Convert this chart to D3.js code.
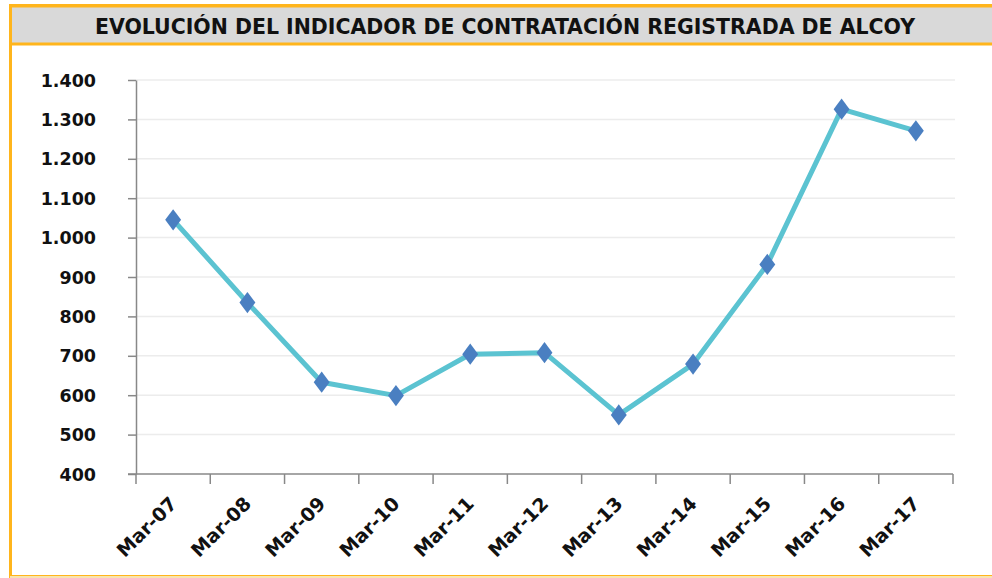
<!DOCTYPE html>
<html>
<head>
<meta charset="utf-8">
<script src="https://cdn.jsdelivr.net/npm/d3@7"></script>
<style>
  body { margin: 0; background: #fff; }
  svg { display: block; }
</style>
</head>
<body>
<script>
// chart data
var titleText = "EVOLUCIÓN DEL INDICADOR DE CONTRATACIÓN REGISTRADA DE ALCOY";
var months = ["Mar-07","Mar-08","Mar-09","Mar-10","Mar-11","Mar-12","Mar-13","Mar-14","Mar-15","Mar-16","Mar-17"];
var values = [1045, 835, 633, 599, 704, 708, 550, 679, 932, 1326, 1271];
var yTicks = [400, 500, 600, 700, 800, 900, 1000, 1100, 1200, 1300, 1400];

var W = 992, H = 578;
var svg = d3.select("body").append("svg")
  .attr("width", W).attr("height", H);

//frame
svg.append("rect").attr("x", 10.5).attr("y", 5.5)
  .attr("width", W).attr("height", H - 7)
  .attr("fill", "#fff").attr("stroke", "#ffb51c").attr("stroke-width", 3);
svg.append("line").attr("x1", 10).attr("x2", W).attr("y1", 577).attr("y2", 577)
  .attr("stroke", "#f8e3b0").attr("stroke-width", 2);

//title bar
svg.append("rect").attr("x", 10.5).attr("y", 6)
  .attr("width", W).attr("height", 38)
  .attr("fill", "#d9d9d9").attr("stroke", "#ffb51c").attr("stroke-width", 3);
svg.append("text")
  .attr("x", 505).attr("y", 34)
  .attr("text-anchor", "middle")
  .attr("textLength", 820).attr("lengthAdjust", "spacingAndGlyphs")
  .style("font-family", "'DejaVu Sans Condensed', 'DejaVu Sans', sans-serif")
  .style("font-weight", "bold").style("font-size", "22px")
  .style("fill", "#111")
  .text(titleText);

var x = d3.scaleBand().domain(months).range([136, 953]);
var y = d3.scaleLinear().domain([400, 1400]).range([474, 80]);

//gridlines
svg.append("g").selectAll("line")
  .data(yTicks.slice(1))
  .enter().append("line")
  .attr("x1", 136).attr("x2", 955)
  .attr("y1", function(d){ return y(d); })
  .attr("y2", function(d){ return y(d); })
  .attr("stroke", "#ececec").attr("stroke-width", 1.5);

var fmt = function(d){ return d3.format(",")(d).replace(/,/g, "."); };

var yAxis = svg.append("g")
  .attr("transform", "translate(136,0)")
  .call(d3.axisLeft(y).tickValues(yTicks).tickFormat(fmt).tickSize(8).tickSizeOuter(0).tickPadding(32));
yAxis.select(".domain").attr("stroke", "#888").attr("stroke-width", 1.5);
yAxis.selectAll(".tick line").attr("stroke", "#888").attr("stroke-width", 1.5);
yAxis.selectAll("text")
  .style("font-family", "'DejaVu Sans', Verdana, sans-serif")
  .style("font-weight", "bold").style("font-size", "17.5px")
  .style("fill", "#111").attr("dy", "0.35em");

// x axis ticks at band edges
var edges = months.map(function(m){ return x(m); }).concat([x.range()[1]]);
var xg = svg.append("g");
xg.append("line").attr("x1", 128).attr("x2", 953).attr("y1", 474).attr("y2", 474)
  .attr("stroke", "#888").attr("stroke-width", 1.5);
xg.selectAll("line.tk").data(edges).enter().append("line")
  .attr("class", "tk")
  .attr("x1", function(d){ return d; }).attr("x2", function(d){ return d; })
  .attr("y1", 474).attr("y2", 484)
  .attr("stroke", "#888").attr("stroke-width", 1.5);
xg.selectAll("text").data(months).enter().append("text")
  .attr("transform", function(d){
    return "translate(" + (x(d) + x.bandwidth()/2 + 5) + ",505) rotate(-45)";
  })
  .attr("text-anchor", "end")
  .style("font-family", "'DejaVu Sans', Verdana, sans-serif")
  .style("font-weight", "bold").style("font-size", "19px")
  .style("fill", "#111")
  .text(function(d){ return d; });

// series line
var line = d3.line()
  .x(function(d, i){ return x(months[i]) + x.bandwidth()/2; })
  .y(function(d){ return y(d); });

svg.append("path").datum(values)
  .attr("d", line)
  .attr("fill", "none")
  .attr("stroke", "#5bc3d1").attr("stroke-width", 5)
  .attr("stroke-linejoin", "round");

svg.append("g").selectAll("path")
  .data(values).enter().append("path")
  .attr("d", d3.symbol().type(d3.symbolDiamond).size(130))
  .attr("transform", function(d, i){
    return "translate(" + (x(months[i]) + x.bandwidth()/2) + "," + y(d) + ") scale(1.3,1)";
  })
  .attr("fill", "#4a7fc1");
</script>
</body>
</html>
